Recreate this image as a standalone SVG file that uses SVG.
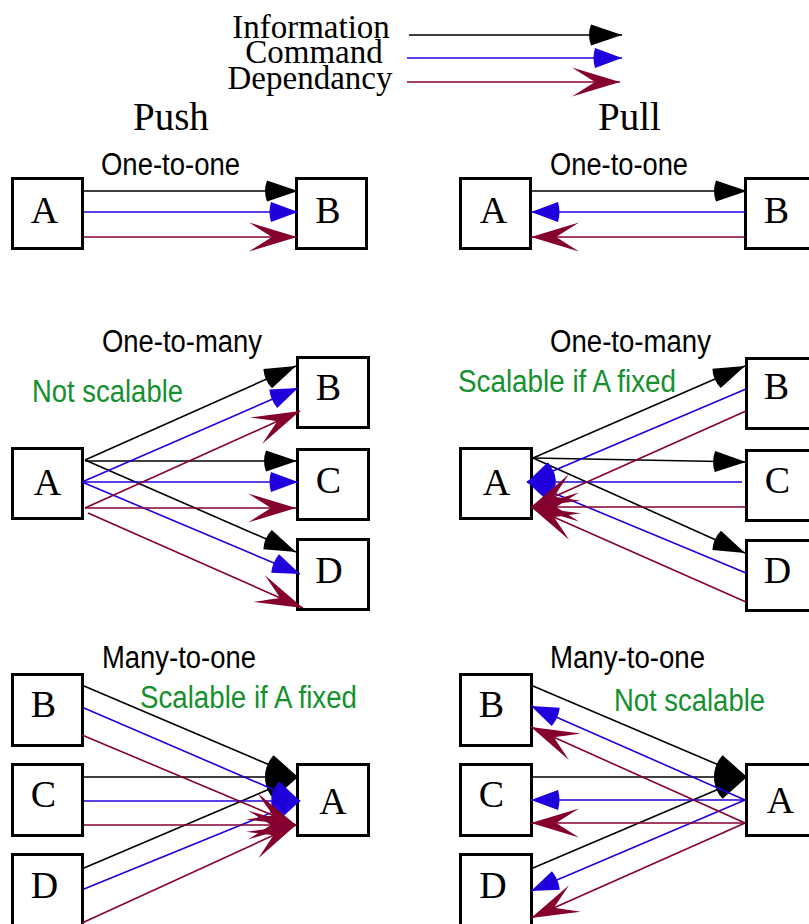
<svg xmlns="http://www.w3.org/2000/svg" width="809" height="924" viewBox="0 0 809 924">
  <style>
    .box { fill: #ffffff; stroke: #000000; stroke-width: 3; }
    .node { font-family: "Liberation Serif", "Times New Roman", serif; font-size: 38px; fill: #000; text-anchor: middle; }
    .title { font-family: "Liberation Serif", "Times New Roman", serif; font-size: 39px; fill: #000; }
    .legend { font-family: "Liberation Serif", "Times New Roman", serif; font-size: 33px; fill: #000; text-anchor: middle; }
    .label { font-family: "Liberation Sans", Arial, sans-serif; font-size: 31px; fill: #000; }
    .note { font-family: "Liberation Sans", Arial, sans-serif; font-size: 31px; fill: #15902f; }
    .info { stroke: #000000; stroke-width: 1.6; fill: none; marker-end: url(#headInfo); }
    .cmd { stroke: #1f00dd; stroke-width: 1.6; fill: none; marker-end: url(#headCmd); }
    .dep { stroke: #85002f; stroke-width: 1.6; fill: none; marker-end: url(#headDep); }
  </style>
  <defs>
    <marker id="headInfo" markerUnits="userSpaceOnUse" orient="auto" refX="0" refY="0" markerWidth="1" markerHeight="1" overflow="visible">
      <path d="M0,0 L-31,-10.5 Q-35,0 -31,10.5 Z" fill="#000000"/>
    </marker>
    <marker id="headCmd" markerUnits="userSpaceOnUse" orient="auto" refX="0" refY="0" markerWidth="1" markerHeight="1" overflow="visible">
      <path d="M0,0 L-27,-10 Q-30,0 -27,10 Z" fill="#1f00dd"/>
    </marker>
    <marker id="headDep" markerUnits="userSpaceOnUse" orient="auto" refX="0" refY="0" markerWidth="1" markerHeight="1" overflow="visible">
      <path d="M0,0 L-48,-14.5 Q-33,-5 -25,0 Q-33,5 -48,14.5 Z" fill="#85002f"/>
    </marker>
  </defs>

  <!-- Legend -->
  <g id="legend">
    <text class="legend" x="311" y="38">Information</text>
    <text class="legend" x="314" y="63">Command</text>
    <text class="legend" x="310" y="89">Dependancy</text>
    <line class="info" x1="409" y1="35" x2="622" y2="35"/>
    <line class="cmd" x1="407" y1="58" x2="622" y2="58"/>
    <line class="dep" x1="407" y1="82" x2="620" y2="82"/>
  </g>

  <!-- Column headings and labels -->
  <g id="headings">
    <text class="title" x="133" y="130">Push</text>
    <text class="title" x="598" y="130">Pull</text>
    <text class="label" x="101" y="175" textLength="139" lengthAdjust="spacingAndGlyphs">One-to-one</text>
    <text class="label" x="550" y="175" textLength="138" lengthAdjust="spacingAndGlyphs">One-to-one</text>
    <text class="label" x="102" y="352" textLength="160" lengthAdjust="spacingAndGlyphs">One-to-many</text>
    <text class="label" x="550" y="352" textLength="161" lengthAdjust="spacingAndGlyphs">One-to-many</text>
    <text class="label" x="102" y="668" textLength="154" lengthAdjust="spacingAndGlyphs">Many-to-one</text>
    <text class="label" x="550" y="668" textLength="155" lengthAdjust="spacingAndGlyphs">Many-to-one</text>
    <text class="note" x="32" y="402" textLength="151" lengthAdjust="spacingAndGlyphs">Not scalable</text>
    <text class="note" x="458" y="392" textLength="218" lengthAdjust="spacingAndGlyphs">Scalable if A fixed</text>
    <text class="note" x="140" y="708" textLength="217" lengthAdjust="spacingAndGlyphs">Scalable if A fixed</text>
    <text class="note" x="614" y="711" textLength="151" lengthAdjust="spacingAndGlyphs">Not scalable</text>
  </g>

  <!-- Push: one-to-one -->
  <g id="push11-A"><rect class="box" x="12.5" y="178.5" width="70" height="70"/><text class="node" x="44.5" y="223">A</text></g>
  <g id="push11-B"><rect class="box" x="296.5" y="178.5" width="70" height="70"/><text class="node" x="328" y="223">B</text></g>

  <!-- Pull: one-to-one -->
  <g id="pull11-A"><rect class="box" x="460.5" y="178.5" width="70" height="70"/><text class="node" x="493.5" y="223">A</text></g>
  <g id="pull11-B"><rect class="box" x="745.5" y="178.5" width="72" height="70"/><text class="node" x="776.5" y="223">B</text></g>

  <!-- Push: one-to-many -->
  <g id="push1n-A"><rect class="box" x="12.5" y="448.5" width="70" height="70"/><text class="node" x="47.5" y="495">A</text></g>
  <g id="push1n-B"><rect class="box" x="297.5" y="357.5" width="71" height="70"/><text class="node" x="328.5" y="400">B</text></g>
  <g id="push1n-C"><rect class="box" x="297.5" y="449.5" width="71" height="70"/><text class="node" x="328.5" y="493">C</text></g>
  <g id="push1n-D"><rect class="box" x="297.5" y="539.5" width="71" height="70"/><text class="node" x="329" y="583">D</text></g>

  <!-- Pull: one-to-many -->
  <g id="pull1n-A"><rect class="box" x="460.5" y="448.5" width="71" height="70"/><text class="node" x="496.5" y="495">A</text></g>
  <g id="pull1n-B"><rect class="box" x="746.5" y="358.5" width="72" height="70"/><text class="node" x="776.5" y="399">B</text></g>
  <g id="pull1n-C"><rect class="box" x="746.5" y="450.5" width="72" height="70"/><text class="node" x="777.5" y="493">C</text></g>
  <g id="pull1n-D"><rect class="box" x="746.5" y="540.5" width="72" height="70"/><text class="node" x="777.5" y="583">D</text></g>

  <!-- Push: many-to-one -->
  <g id="pushn1-B"><rect class="box" x="12.5" y="674.5" width="70" height="71"/><text class="node" x="43.5" y="717">B</text></g>
  <g id="pushn1-C"><rect class="box" x="12.5" y="764.5" width="70" height="71"/><text class="node" x="43.5" y="807">C</text></g>
  <g id="pushn1-D"><rect class="box" x="12.5" y="854.5" width="70" height="80"/><text class="node" x="44.5" y="898">D</text></g>
  <g id="pushn1-A"><rect class="box" x="297.5" y="764.5" width="71" height="71"/><text class="node" x="333" y="814">A</text></g>

  <!-- Pull: many-to-one -->
  <g id="pulln1-B"><rect class="box" x="460.5" y="674.5" width="71" height="71"/><text class="node" x="491.5" y="717">B</text></g>
  <g id="pulln1-C"><rect class="box" x="460.5" y="764.5" width="71" height="71"/><text class="node" x="491.5" y="807">C</text></g>
  <g id="pulln1-D"><rect class="box" x="460.5" y="854.5" width="71" height="80"/><text class="node" x="493" y="898">D</text></g>
  <g id="pulln1-A"><rect class="box" x="746.5" y="764.5" width="72" height="71"/><text class="node" x="780.5" y="813">A</text></g>

  <!-- Connectors -->
  <g id="connectors">
    <!-- push one-to-one -->
    <line class="info" x1="84" y1="191" x2="298" y2="191"/>
    <line class="cmd" x1="84" y1="212" x2="298" y2="212"/>
    <line class="dep" x1="84" y1="237" x2="297" y2="237"/>

    <!-- pull one-to-one -->
    <line class="info" x1="532" y1="191" x2="747" y2="191"/>
    <line class="cmd" x1="745" y1="212" x2="531" y2="212"/>
    <line class="dep" x1="745" y1="237" x2="531" y2="237"/>

    <!-- push one-to-many -->
    <line class="info" x1="85" y1="460" x2="296" y2="366"/>
    <line class="info" x1="85" y1="461" x2="297" y2="461"/>
    <line class="info" x1="85" y1="460" x2="296" y2="552"/>
    <line class="cmd" x1="82" y1="482" x2="298" y2="388"/>
    <line class="cmd" x1="82" y1="482" x2="298" y2="482"/>
    <line class="cmd" x1="82" y1="482" x2="300" y2="574"/>
    <line class="dep" x1="85" y1="508" x2="300" y2="411"/>
    <line class="dep" x1="85" y1="508" x2="296" y2="508"/>
    <line class="dep" x1="88" y1="513" x2="303" y2="608"/>

    <!-- pull one-to-many -->
    <line class="info" x1="533" y1="458" x2="745" y2="366"/>
    <line class="info" x1="533" y1="458" x2="746" y2="462"/>
    <line class="info" x1="533" y1="458" x2="745" y2="553"/>
    <line class="cmd" x1="746" y1="389" x2="527" y2="482"/>
    <line class="cmd" x1="742" y1="482" x2="527" y2="482"/>
    <line class="cmd" x1="746" y1="573" x2="527" y2="482"/>
    <line class="dep" x1="746" y1="411" x2="531" y2="507"/>
    <line class="dep" x1="746" y1="507" x2="531" y2="507"/>
    <line class="dep" x1="746" y1="602" x2="531" y2="507"/>

    <!-- push many-to-one -->
    <line class="info" x1="84" y1="686" x2="298" y2="777"/>
    <line class="info" x1="84" y1="777" x2="298" y2="777"/>
    <line class="info" x1="84" y1="868" x2="298" y2="777"/>
    <line class="cmd" x1="84" y1="708" x2="300" y2="801"/>
    <line class="cmd" x1="84" y1="801" x2="300" y2="801"/>
    <line class="cmd" x1="84" y1="889" x2="300" y2="801"/>
    <line class="dep" x1="82" y1="735" x2="296" y2="825"/>
    <line class="dep" x1="84" y1="825" x2="296" y2="825"/>
    <line class="dep" x1="82" y1="923" x2="296" y2="825"/>

    <!-- pull many-to-one -->
    <line class="info" x1="533" y1="686" x2="747" y2="777"/>
    <line class="info" x1="533" y1="777" x2="747" y2="777"/>
    <line class="info" x1="533" y1="868" x2="747" y2="777"/>
    <line class="cmd" x1="745" y1="800" x2="531" y2="706"/>
    <line class="cmd" x1="745" y1="800" x2="531" y2="800"/>
    <line class="cmd" x1="745" y1="800" x2="531" y2="891"/>
    <line class="dep" x1="745" y1="823" x2="531" y2="727"/>
    <line class="dep" x1="745" y1="823" x2="531" y2="823"/>
    <line class="dep" x1="745" y1="823" x2="531" y2="918"/>
  </g>
</svg>
